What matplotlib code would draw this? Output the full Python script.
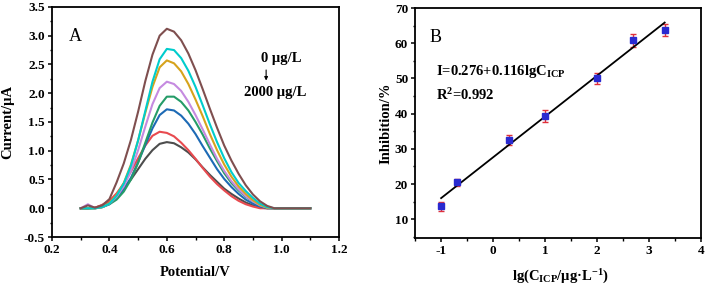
import numpy as np
import matplotlib
matplotlib.use('Agg')
import matplotlib.pyplot as plt
from matplotlib.ticker import MultipleLocator

plt.rcParams['font.family'] = ['Liberation Serif', 'DejaVu Serif']
plt.rcParams['font.weight'] = 'bold'
plt.rcParams['axes.unicode_minus'] = False
plt.rcParams['mathtext.fontset'] = 'custom'
plt.rcParams['mathtext.rm'] = 'Liberation Serif:bold'
plt.rcParams['mathtext.it'] = 'Liberation Serif:bold'
plt.rcParams['mathtext.bf'] = 'Liberation Serif:bold'

# panel A: DPV curves, current (uA) vs potential (V)
potential = [0.300, 0.325, 0.350, 0.375, 0.400, 0.425, 0.450, 0.475, 0.500, 0.525, 0.550,
             0.575, 0.600, 0.625, 0.650, 0.675, 0.700, 0.725, 0.750, 0.775, 0.800, 0.825,
             0.850, 0.875, 0.900, 0.925, 0.950, 0.975, 1.000, 1.025, 1.050, 1.075, 1.100]

cur_gray = [0.0, 0.0, 0.01, 0.05, 0.10, 0.22, 0.34, 0.50, 0.68, 0.86, 1.01,
            1.12, 1.15, 1.13, 1.06, 0.97, 0.85, 0.71, 0.58, 0.46, 0.34, 0.25,
            0.17, 0.10, 0.05, 0.01, 0.0, 0.0, 0.0, 0.0, 0.0, 0.0, 0.0]
cur_red = [0.0, 0.0, 0.01, 0.06, 0.13, 0.26, 0.43, 0.64, 0.87, 1.09, 1.26,
           1.33, 1.31, 1.25, 1.14, 1.01, 0.86, 0.70, 0.55, 0.42, 0.31, 0.21,
           0.13, 0.07, 0.03, 0.0, 0.0, 0.0, 0.0, 0.0, 0.0, 0.0, 0.0]
cur_blue = [0.0, 0.0, 0.0, 0.02, 0.07, 0.18, 0.33, 0.53, 0.80, 1.10, 1.39,
            1.62, 1.72, 1.70, 1.61, 1.47, 1.29, 1.08, 0.88, 0.68, 0.51, 0.37,
            0.25, 0.15, 0.08, 0.03, 0.0, 0.0, 0.0, 0.0, 0.0, 0.0, 0.0]
cur_green = [0.0, 0.0, 0.0, 0.02, 0.07, 0.15, 0.29, 0.50, 0.79, 1.14, 1.49,
             1.78, 1.94, 1.94, 1.85, 1.70, 1.50, 1.28, 1.04, 0.82, 0.61, 0.44,
             0.31, 0.20, 0.12, 0.05, 0.01, 0.0, 0.0, 0.0, 0.0, 0.0, 0.0]
cur_violet = [0.0, 0.07, 0.0, 0.02, 0.08, 0.20, 0.38, 0.65, 1.01, 1.42, 1.81,
              2.09, 2.20, 2.16, 2.04, 1.85, 1.62, 1.37, 1.11, 0.86, 0.65, 0.47,
              0.33, 0.21, 0.12, 0.05, 0.01, 0.0, 0.0, 0.0, 0.0, 0.0, 0.0]
cur_yellow = [0.0, 0.0, 0.0, 0.02, 0.09, 0.23, 0.44, 0.76, 1.18, 1.66, 2.11,
              2.45, 2.57, 2.52, 2.38, 2.16, 1.89, 1.60, 1.29, 1.01, 0.76, 0.55,
              0.38, 0.25, 0.14, 0.06, 0.01, 0.0, 0.0, 0.0, 0.0, 0.0, 0.0]
cur_cyan = [0.0, 0.0, 0.0, 0.02, 0.08, 0.22, 0.43, 0.74, 1.18, 1.69, 2.20,
            2.59, 2.77, 2.75, 2.61, 2.39, 2.11, 1.79, 1.46, 1.15, 0.87, 0.63,
            0.44, 0.30, 0.18, 0.08, 0.02, 0.0, 0.0, 0.0, 0.0, 0.0, 0.0]
cur_brown = [0.0, 0.05, 0.01, 0.05, 0.16, 0.45, 0.78, 1.19, 1.68, 2.21, 2.67,
             3.00, 3.12, 3.07, 2.92, 2.69, 2.40, 2.07, 1.73, 1.40, 1.09, 0.83,
             0.60, 0.40, 0.24, 0.12, 0.04, 0.0, 0.0, 0.0, 0.0, 0.0, 0.0]

curves = [cur_gray, cur_red, cur_blue, cur_green, cur_violet, cur_yellow, cur_cyan, cur_brown]
colors = ['#4d4d4d', '#e84a4f', '#1d6ab5', '#259c68', '#c58ae0', '#d6a31c', '#00cccc', '#7f4f4f']

# panel B: inhibition vs lg(C)
lgc = [-1.0, -0.7, 0.3, 1.0, 2.0, 2.7, 3.3]
inhibition = [13.7, 20.5, 32.5, 39.2, 50.0, 60.8, 63.8]
inhibition_err = [1.3, 1.0, 1.3, 1.7, 1.6, 1.9, 1.8]
fit_intercept = 27.6
fit_slope = 11.6

fig = plt.figure(figsize=(7.06, 2.88), dpi=100)
ax1 = fig.add_axes([0.0737, 0.177, 0.4065, 0.799])
ax2 = fig.add_axes([0.588, 0.174, 0.405, 0.798])

for cur, col in zip(curves, colors):
    ax1.plot(potential, cur, color=col, lw=1.5, solid_joinstyle='round')

ax1.set_xlim(0.2, 1.2)
ax1.set_ylim(-0.5, 3.5)
ax1.xaxis.set_major_locator(MultipleLocator(0.2))
ax1.xaxis.set_minor_locator(MultipleLocator(0.1))
ax1.yaxis.set_major_locator(MultipleLocator(0.5))
ax1.yaxis.set_minor_locator(MultipleLocator(0.25))
ax1.set_xlabel('Potential/V', fontsize=10.5, fontweight='bold')
ax1.set_ylabel('Current/µA', fontsize=10.5, fontweight='bold')
ax1.xaxis.set_label_coords(0.5, -0.125)
ax1.yaxis.set_label_coords(-0.13, 0.5)
ax1.text(0.058, 0.853, 'A', transform=ax1.transAxes, fontsize=13, fontweight='normal')
ax1.text(0.80, 0.774, '0 µg/L', transform=ax1.transAxes, fontsize=10.5, ha='center', va='center')
ax1.text(0.777, 0.626, '2000 µg/L', transform=ax1.transAxes, fontsize=10.5, ha='center', va='center')
ax1.annotate('', xy=(0.746, 0.668), xytext=(0.746, 0.738), xycoords='axes fraction',
             arrowprops=dict(arrowstyle='-|>', color='black', lw=0.8, mutation_scale=5))

ax2.errorbar(lgc, inhibition, yerr=inhibition_err, fmt='none', ecolor='#e0303a',
             elinewidth=1.0, capsize=2.5, capthick=1.0, zorder=2)
ax2.plot(lgc, inhibition, 's', color='#2a2ad0', ms=4, zorder=4)
fit_x = np.array([lgc[0], lgc[-1]])
ax2.plot(fit_x, fit_intercept + fit_slope * fit_x, color='black', lw=1.3, zorder=3)

ax2.set_xlim(-1.5, 4)
ax2.set_ylim(4.7, 70)
ax2.xaxis.set_major_locator(MultipleLocator(1))
ax2.xaxis.set_minor_locator(MultipleLocator(0.5))
ax2.yaxis.set_major_locator(MultipleLocator(10))
ax2.yaxis.set_minor_locator(MultipleLocator(5))
ax2.set_yticks([10, 20, 30, 40, 50, 60, 70])
ax2.set_xlabel(r'lg(C$_{ICP}$/µg·L$^{-1}$)', fontsize=10.5, fontweight='bold')
ax2.set_ylabel('Inhibition/%', fontsize=10.5, fontweight='bold')
ax2.xaxis.set_label_coords(0.507, -0.13)
ax2.yaxis.set_label_coords(-0.08, 0.5)
ax2.text(0.052, 0.852, 'B', transform=ax2.transAxes, fontsize=13, fontweight='normal')
ax2.text(0.073, 0.722, r'I=0.276+0.116lgC$_{ICP}$', transform=ax2.transAxes, fontsize=10.5, va='center')
ax2.text(0.073, 0.622, r'R$^{2}$=0.992', transform=ax2.transAxes, fontsize=10.5, va='center')

fig.canvas.draw()
for ax in [ax1, ax2]:
    for sp in ax.spines.values():
        sp.set_linewidth(1.3)
    ax.tick_params(which='major', direction='out', length=3, width=1.1, labelsize=9.5, pad=2)
    ax.tick_params(which='minor', direction='out', length=1.8, width=1.0)
    ax.tick_params(top=False, right=False, which='both')
    for lab in ax.get_xticklabels() + ax.get_yticklabels():
        lab.set_fontweight('bold')

fig.savefig('out.png', dpi=100)
